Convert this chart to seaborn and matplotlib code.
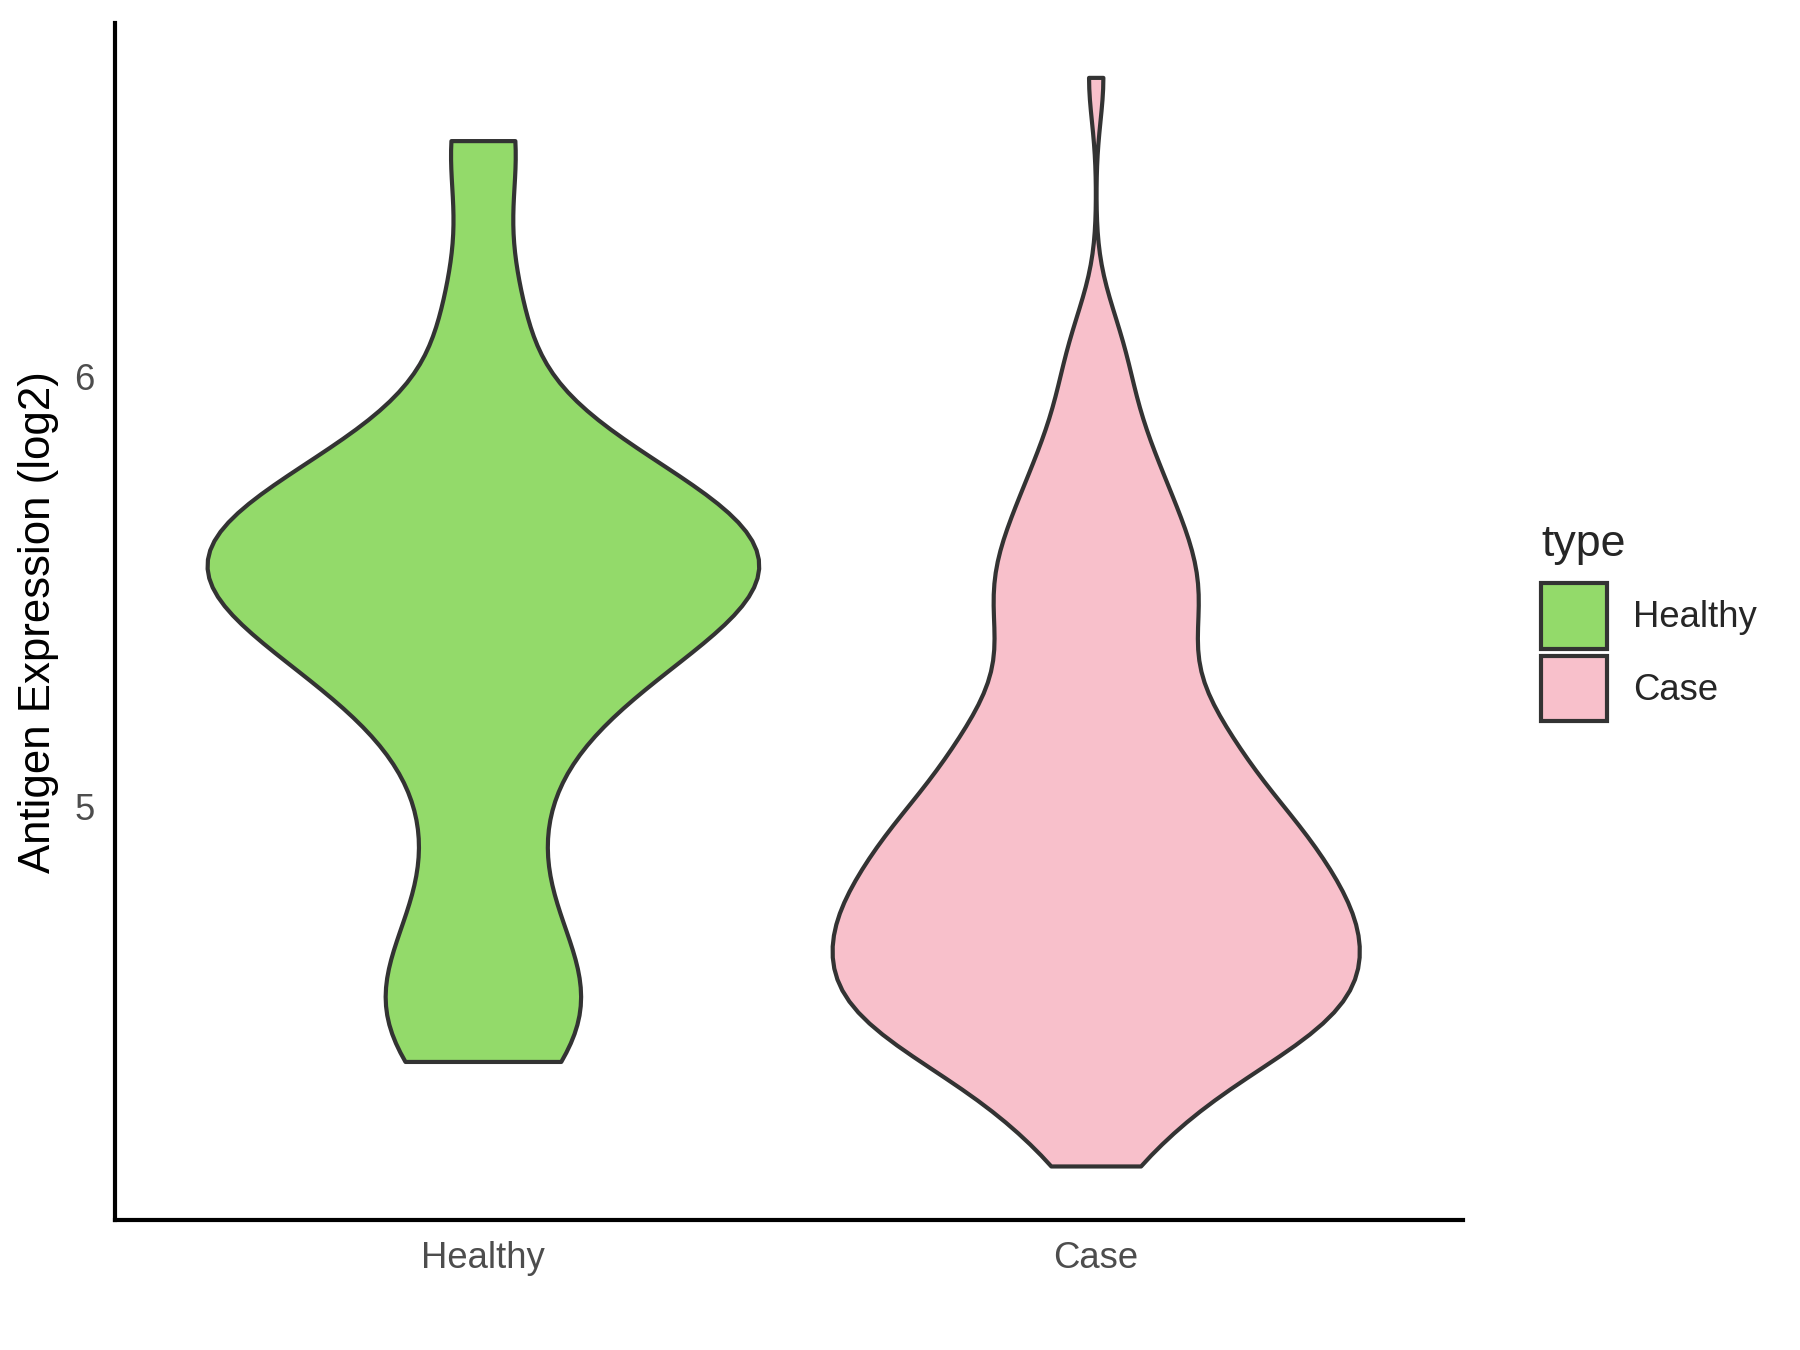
import numpy as np
import pandas as pd
import matplotlib
matplotlib.use("Agg")
import matplotlib.pyplot as plt
from matplotlib.patches import Patch
import seaborn as sns

# values (log2 antigen expression)
healthy_values = [4.408, 4.49, 4.60, 4.72, 4.96, 5.17, 5.28, 5.35, 5.41, 5.46, 5.50,
                  5.54, 5.57, 5.60, 5.63, 5.67, 5.72, 5.78, 5.86, 6.15, 6.549]
# case group is larger: value levels and how many samples sit at each
case_values = [4.165, 4.25, 4.35, 4.45, 4.55, 4.65, 4.75, 4.85, 4.95, 5.05, 5.15,
               5.25, 5.35, 5.45, 5.55, 5.65, 5.75, 5.85, 5.95, 6.05, 6.15, 6.696]
case_counts = [2, 4, 7, 12, 15, 15, 15, 13, 12, 9, 8,
               6, 5, 6, 6, 5, 4, 3, 2, 2, 1, 1]

groups = ["Healthy", "Case"]
colors = ["#93DA6A", "#F8C0CB"]
widths = [0.9, 0.86]   # equal-area look: case peaks a bit narrower
edge = "#333333"

case_all = list(np.repeat(case_values, case_counts))
df = pd.DataFrame({
    "type": ["Healthy"] * len(healthy_values) + ["Case"] * len(case_all),
    "value": healthy_values + case_all,
})

sns.set_style("white")
plt.rcParams["font.family"] = ["Liberation Sans", "DejaVu Sans"]

fig = plt.figure(figsize=(12, 9), dpi=150)
ax = fig.add_axes([0.064, 0.096, 0.749, 0.887])

# one violin per group, trimmed at the data range
for g, c, w in zip(groups, colors, widths):
    sns.violinplot(data=df[df["type"] == g], x="type", y="value", order=groups,
                   color=c, saturation=1, cut=0, inner=None,
                   density_norm="width", bw_adjust=0.57, width=w,
                   linewidth=2.0, linecolor=edge, ax=ax)

# ggplot-like 5% expansion of the data range
lo, hi = df["value"].min(), df["value"].max()
pad = (hi - lo) * 0.05
ax.set_ylim(lo - pad, hi + pad)
ax.set_xlim(-0.6, 1.6)
ax.set_yticks([5, 6])

ax.set_xlabel("")
ax.set_ylabel("Antigen Expression (log2)", fontsize=21, color="black", labelpad=7)

for side in ["top", "right"]:
    ax.spines[side].set_visible(False)
for side in ["left", "bottom"]:
    ax.spines[side].set_color("black")
    ax.spines[side].set_linewidth(2.0)

ax.tick_params(axis="both", direction="out", length=5, width=1.6, color=edge,
               labelsize=17.5, labelcolor="#4D4D4D", pad=5)

handles = [Patch(facecolor=c, edgecolor=edge, linewidth=2.0, label=g)
           for g, c in zip(groups, colors)]
leg = fig.legend(handles=handles, title="type", loc="center left",
                 bbox_to_anchor=(0.838, 0.539), frameon=False, fontsize=17.5,
                 title_fontsize=21.5, handlelength=1.8, handleheight=2.38,
                 labelspacing=0.19, handletextpad=0.72)
leg._legend_box.align = "left"
leg._legend_box.sep = 9

fig.savefig("out.png", dpi=150, facecolor="white")
